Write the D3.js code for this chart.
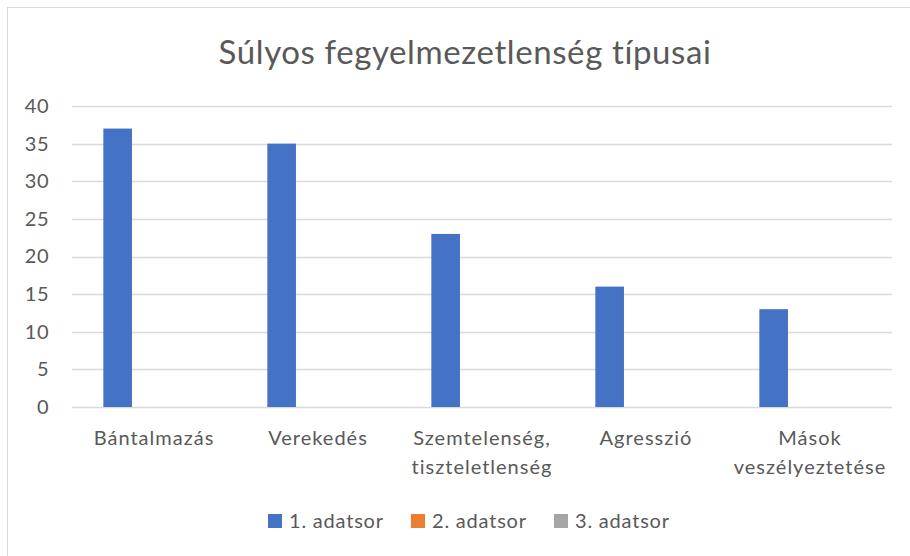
<meta charset="utf-8">
<head>
    <script type="text/javascript" src="https://cdn.jsdelivr.net/npm/d3@7/dist/d3.min.js"></script>
    <style>
        body { margin: 0; background: #fff; }
        text { font-family: Lato, "Open Sans", sans-serif; fill: #595959; }
    </style>
</head>
<body>
    <svg width=910 height=556></svg>
</body>
<script>
    let categories = [
        ["Bántalmazás"],
        ["Verekedés"],
        ["Szemtelenség,", "tiszteletlenség"],
        ["Agresszió"],
        ["Mások", "veszélyeztetése"]
    ];
    let seriesNames = ["1. adatsor", "2. adatsor", "3. adatsor"];
    let series1 = [37, 35, 23, 16, 13];
    let series2 = [0, 0, 0, 0, 0];
    let series3 = [0, 0, 0, 0, 0];
    let yTicks = [0, 5, 10, 15, 20, 25, 30, 35, 40];
    let colors = ["#4472C4", "#ED7D31", "#A5A5A5"];

    let allSeries = [series1, series2, series3];
    let plot = { left: 72, right: 892, top: 106, bottom: 407 };

    let svg = d3.select('svg');

    // chart frame
    svg.append("rect")
        .attr("x", 7.5).attr("y", 7.5)
        .attr("width", 920).attr("height", 560)
        .attr("fill", "#fff")
        .attr("stroke", "#d9d9d9");

    svg.append("text")
        .attr("x", 465)
        .attr("y", 64)
        .attr("text-anchor", "middle")
        .attr("font-size", 33)
        .attr("letter-spacing", 0.6)
        .text("Súlyos fegyelmezetlenség típusai");

    let x0 = d3.scaleBand()
        .domain(d3.range(categories.length))
        .range([plot.left, plot.right])
        .paddingInner(0.3822)
        .paddingOuter(0.1911);

    let x1 = d3.scaleBand()
        .domain(d3.range(allSeries.length))
        .range([0, x0.bandwidth()])
        .paddingInner(0.2126)
        .paddingOuter(0);

    let y = d3.scaleLinear()
        .domain([0, 40])
        .range([plot.bottom, plot.top]);

    // gridlines
    svg.append("g")
        .selectAll("line")
        .data(yTicks)
        .enter()
        .append("line")
        .attr("x1", plot.left).attr("x2", plot.right)
        .attr("y1", d => Math.round(y(d)) + 0.5)
        .attr("y2", d => Math.round(y(d)) + 0.5)
        .attr("stroke", "#d9d9d9")
        .attr("stroke-width", 1.5);

    // y labels
    let yAxis = d3.axisLeft(y).tickValues(yTicks).tickSize(0).tickPadding(0);
    let yg = svg.append('g')
        .attr("transform", `translate(49, 0)`)
        .call(yAxis);
    yg.select(".domain").remove();
    yg.selectAll("text")
        .attr("font-size", 20)
        .attr("letter-spacing", 0.5)
        .attr("font-family", "Lato, sans-serif")
        .attr("fill", "#595959");

    // bars
    let groups = svg.append("g")
        .selectAll("g")
        .data(categories)
        .enter()
        .append("g")
        .attr("transform", (d, i) => `translate(${x0(i)}, 0)`);

    groups.selectAll("rect")
        .data((d, i) => allSeries.map((s, k) => ({ k: k, v: s[i] })))
        .enter()
        .append("rect")
        .attr("x", d => x1(d.k))
        .attr("width", x1.bandwidth())
        .attr("y", d => y(d.v))
        .attr("height", d => y(0) - y(d.v))
        .attr("fill", d => colors[d.k]);

    // category labels
    svg.append("g")
        .selectAll("text")
        .data(categories)
        .enter()
        .append("text")
        .attr("text-anchor", "middle")
        .attr("font-size", 20)
        .attr("letter-spacing", 1)
        .attr("transform", (d, i) => `translate(${x0(i) + x0.bandwidth() / 2}, 445)`)
        .each(function (d) {
            d3.select(this).selectAll("tspan")
                .data(d)
                .enter()
                .append("tspan")
                .attr("x", 0)
                .attr("dy", (t, j) => j == 0 ? 0 : 29)
                .text(t => t);
        });

    // legend
    let legendX = [268, 411, 554];
    let legend = svg.append("g")
        .selectAll("g")
        .data(seriesNames)
        .enter()
        .append("g")
        .attr("transform", (d, i) => `translate(${legendX[i]}, 514)`);

    legend.append("rect")
        .attr("width", 14).attr("height", 14)
        .attr("fill", (d, i) => colors[i]);

    legend.append("text")
        .attr("x", 21)
        .attr("y", 14)
        .attr("font-size", 20)
        .attr("letter-spacing", 0.8)
        .text(d => d);
</script>
